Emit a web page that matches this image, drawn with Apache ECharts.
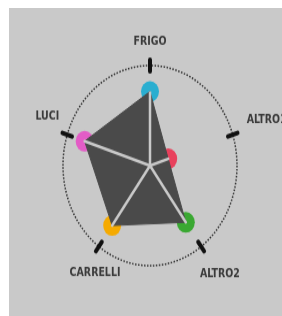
<!DOCTYPE html>
<html>
<head>
<meta charset="utf-8">
<script src="https://cdn.jsdelivr.net/npm/echarts@6/dist/echarts.min.js"></script>
<style>
	html, body { margin: 0; padding: 0; background: #fff; }
	#bg { position: absolute; left: 9px; top: 8px; width: 273px; height: 308px; background: #c9c9c9; }
	#chart { position: absolute; left: 0; top: 0; width: 282px; height: 275px; transform: scaleY(1.15); transform-origin: 0 0; }
</style>
</head>
<body>
<div id="bg"></div>
<div id="chart"></div>
<script>
// 指标 (echarts 雷达逆时针排列)
var indicators = ['FRIGO', 'LUCI', 'CARRELLI', 'ALTRO2', 'ALTRO1'];
var values = [74, 79, 74, 70, 22];
var dotColors = ['#2aaed0', '#e35cc6', '#f5aa00', '#3aa832', '#e8405c'];
var maxValue = 100;

var myChart = echarts.init(document.getElementById('chart'));

// 每个指标单独一条: 其余维度为 0 (落在圆心)
var single = indicators.map(function(name, i) {
	return values.map(function(v, j) {
		return j === i ? v : 0;
	});
});

// 标签微调 [上, 右, 下, 左]
var namePadding = [
	[0, 0, 0, 0],
	[0, 0, 18, 0],
	[11, 0, 0, 17],
	[13, 0, 0, 13],
	[0, 0, 12, 28]
];
var rich = {};
namePadding.forEach(function(p, i) {
	rich['a' + i] = {
		color: '#3a3a3a',
		fontSize: 10.5,
		fontWeight: 'bold',
		fontFamily: "'DejaVu Sans Condensed', 'Liberation Sans', sans-serif",
		padding: p
	};
});

var option = {
	animation: false,
	radar: [{
		center: [150, 144],
		radius: 87,
		startAngle: 90,
		splitNumber: 1,
		shape: 'circle',
		nameGap: 21,
		indicator: indicators.map(function(n) {
			return { name: n, max: maxValue };
		}),
		axisName: {
			align: 'center',
			verticalAlign: 'middle',
			formatter: function(name) {
				return '{a' + indicators.indexOf(name) + '|' + name + '}';
			},
			rich: rich
		},
		axisLine: { show: false },
		axisTick: { show: false },
		axisLabel: { show: false },
		splitArea: { show: false },
		splitLine: {
			lineStyle: {
				color: '#333',
				type: 'dotted',
				width: 1.5
			}
		}
	}, {
		// 圆周上的黑色刻度
		center: [150, 144],
		radius: [82, 92],
		startAngle: 90,
		splitNumber: 1,
		shape: 'circle',
		indicator: indicators.map(function(n) {
			return { name: n, max: maxValue };
		}),
		axisName: { show: false },
		axisLine: {
			lineStyle: { color: '#111', width: 4 }
		},
		axisTick: { show: false },
		axisLabel: { show: false },
		splitArea: { show: false },
		splitLine: { show: false }
	}],
	series: [{
		// 彩色圆点
		type: 'radar',
		radarIndex: 0,
		z: 1,
		symbol: 'circle',
		symbolSize: 18,
		lineStyle: { width: 0, opacity: 0 },
		data: single.map(function(v, i) {
			return { value: v, itemStyle: { color: dotColors[i] } };
		})
	}, {
		type: 'radar',
		radarIndex: 0,
		z: 2,
		symbol: 'none',
		lineStyle: { color: '#4a4a4a', width: 1 },
		areaStyle: { color: '#4a4a4a', opacity: 1 },
		data: [{ value: values }]
	}, {
		// 圆心到各点的连线
		type: 'radar',
		radarIndex: 0,
		z: 3,
		symbol: 'none',
		lineStyle: { color: '#c9c9c9', width: 2.5 },
		data: single.map(function(v) {
			return { value: v };
		})
	}]
};
myChart.setOption(option);
</script>
</body>
</html>
